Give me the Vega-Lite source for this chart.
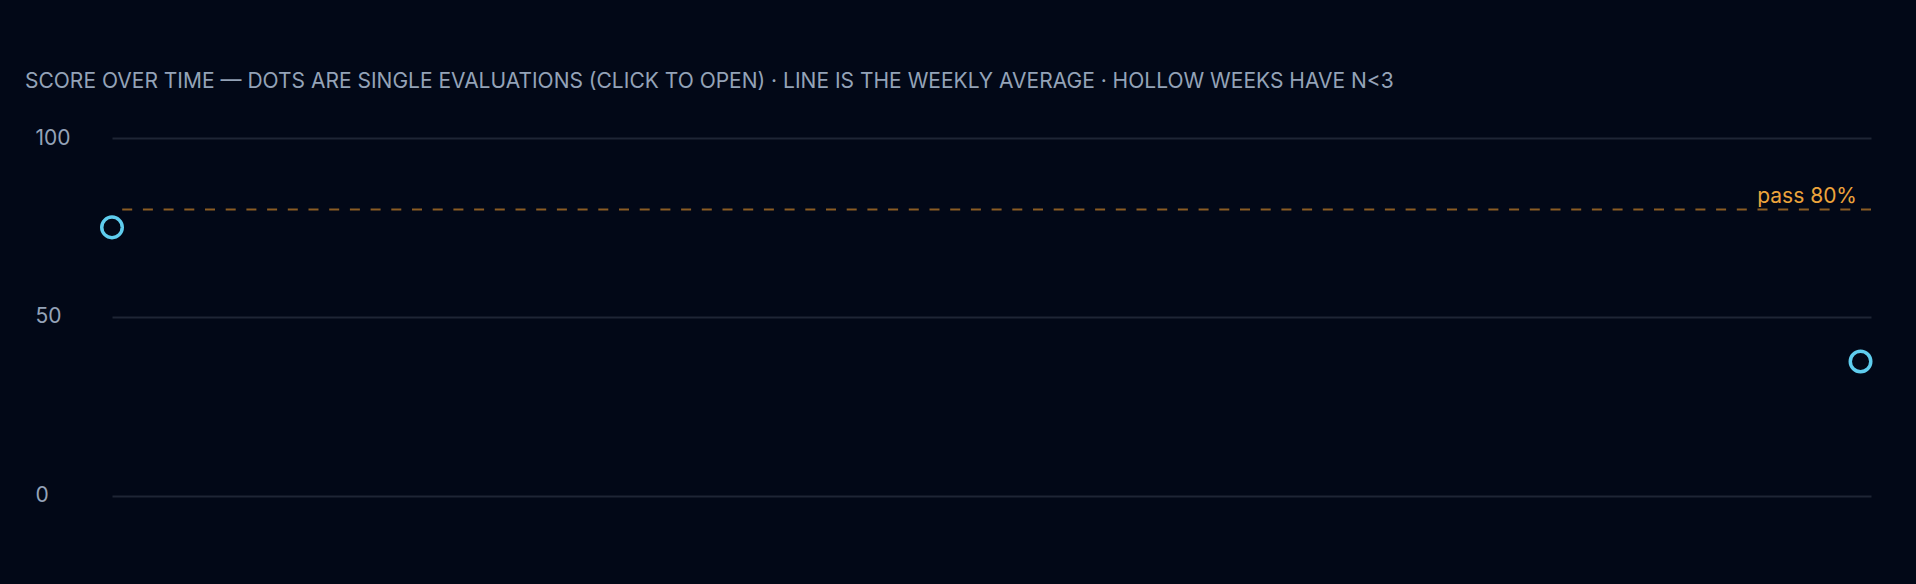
{
  "$schema": "https://vega.github.io/schema/vega-lite/v6.json",
  "width": 1759,
  "height": 357.5,
  "autosize": {"type": "none"},
  "padding": {"left": 112, "top": 138, "right": 45, "bottom": 88.5},
  "background": "#020817",
  "config": {
    "view": {"stroke": null},
    "font": "Inter"
  },
  "title": {
    "text": "SCORE OVER TIME — DOTS ARE SINGLE EVALUATIONS (CLICK TO OPEN) · LINE IS THE WEEKLY AVERAGE · HOLLOW WEEKS HAVE N<3",
    "anchor": "start",
    "frame": "group",
    "font": "Inter",
    "fontSize": 21,
    "fontWeight": "normal",
    "color": "#94a3b8",
    "baseline": "alphabetic",
    "dx": -87,
    "offset": 18
  },
  "datasets": {
    "weeks": [
      {"date": "2025-03-03T00:00:00", "score": 75.0, "n": 1},
      {"date": "2025-03-30T20:00:00", "score": 37.5, "n": 1}
    ],
    "pass": [
      {"threshold": 80, "label": "pass 80%"}
    ]
  },
  "layer": [
    {
      "data": {"name": "pass"},
      "mark": {"type": "rule", "color": "#8a5c24", "strokeWidth": 2, "strokeDash": [10, 10.7]},
      "encoding": {
        "y": {"field": "threshold", "type": "quantitative", "scale": {"domain": [0, 100]}}
      }
    },
    {
      "data": {"name": "pass"},
      "mark": {"type": "text", "align": "right", "baseline": "alphabetic", "x": "width", "dx": -14, "dy": -7, "color": "#eda43c", "fontSize": 21, "font": "Inter"},
      "encoding": {
        "y": {"field": "threshold", "type": "quantitative"},
        "text": {"field": "label"}
      }
    },
    {
      "data": {"name": "weeks"},
      "mark": {"type": "point", "shape": "circle", "filled": false, "size": 420, "strokeWidth": 3.5, "opacity": 1, "color": "#5fcdee", "clip": false},
      "encoding": {
        "x": {"field": "date", "type": "temporal", "scale": {"domain": ["2025-03-03T00:00:00", "2025-03-31T00:00:00"]}, "axis": null},
        "y": {
          "field": "score",
          "type": "quantitative",
          "scale": {"domain": [0, 100]},
          "axis": {
            "values": [0, 50, 100],
            "title": null,
            "domain": false,
            "ticks": false,
            "grid": true,
            "gridColor": "#1e2535",
            "gridWidth": 2,
            "labelAlign": "left",
            "labelPadding": 77,
            "labelFont": "Inter",
            "labelFontSize": 21,
            "labelColor": "#94a3b8"
          }
        }
      }
    }
  ]
}
